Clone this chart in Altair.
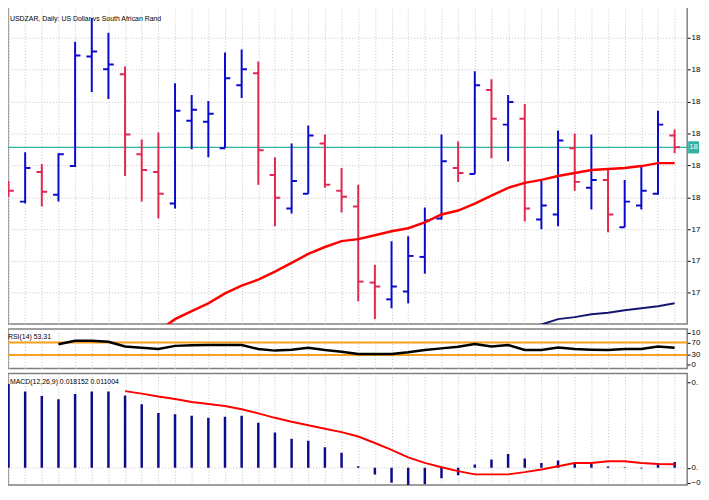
import altair as alt
import pandas as pd

# ---------------- data ----------------
bar_index = list(range(41))
opens = [18.0325, 17.9861, 18.0789, 18.0077, 18.0975, 18.4412, 18.4009, 18.3854, 18.1347, 18.0789,
         17.9799, 18.2399, 18.2368, 18.1533, 18.3514, 18.3885, 18.0697, 17.9644, 18.0108, 18.1687,
         18.0201, 17.9706, 17.7322, 17.6796, 17.7043, 17.8127, 17.9334, 18.0913, 18.0728, 18.3359,
         18.2276, 18.2461, 17.9303, 17.9458, 18.1533, 18.0294, 18.0542, 17.9056, 17.9737, 18.0108,
         18.1935]
highs = [18.0511, 18.1409, 18.1037, 18.1378, 18.4876, 18.5619, 18.5155, 18.4102, 18.1811, 18.2028,
         18.3576, 18.3204, 18.3019, 18.4536, 18.4628, 18.4257, 18.1254, 18.1687, 18.2245, 18.1966,
         18.0913, 18.0387, 17.7879, 17.8622, 17.8777, 17.9675, 18.1966, 18.1749, 18.3947, 18.3700,
         18.3204, 18.2926, 18.0511, 18.2090, 18.1997, 18.1966, 18.0851, 18.0542, 18.0944, 18.2709,
         18.2121]
lows = [18.0015, 17.9799, 17.9706, 17.9861, 18.0944, 18.3297, 18.3080, 18.0666, 17.9861, 17.9334,
        17.9644, 18.1502, 18.1254, 18.1533, 18.3111, 18.0387, 17.9087, 17.9489, 18.0108, 18.0294,
        17.9520, 17.6734, 17.6176, 17.6517, 17.6672, 17.7601, 17.9303, 18.0480, 18.0728, 18.1223,
        18.1130, 17.9241, 17.8994, 17.9087, 18.0201, 17.9613, 17.8901, 17.9056, 17.9613, 18.0077,
        18.1378]
closes = [18.0201, 18.0913, 18.0170, 18.1347, 18.4443, 18.4567, 18.4164, 18.1966, 18.0851, 18.0108,
          18.2709, 18.2740, 18.2616, 18.3731, 18.4009, 18.1471, 17.9985, 18.0511, 18.1935, 18.0387,
          18.0015, 17.7353, 17.7198, 17.7198, 17.8158, 17.9272, 18.1130, 18.0759, 18.3514, 18.2461,
          18.2988, 17.9644, 17.9737, 18.1780, 18.0480, 18.0542, 17.9458, 17.9861, 18.0201, 18.2276,
          18.1563]
ma_fast = [None] * 9 + [17.5805, 17.6176, 17.6424, 17.6672, 17.6981, 17.7229, 17.7415, 17.7663,
                        17.7941, 17.8220, 17.8437, 17.8622, 17.8684, 17.8808, 17.8932, 17.9025,
                        17.9211, 17.9458, 17.9582, 17.9799, 18.0046, 18.0294, 18.0449, 18.0542,
                        18.0666, 18.0759, 18.0851, 18.0882, 18.0913, 18.0975, 18.1068, 18.1068]
ma_slow = [None] * 31 + [17.585, 17.6006, 17.6176, 17.6238, 17.6331, 17.6378, 17.6455, 17.6517,
                         17.6579, 17.6672]
rsi = [None] * 3 + [64, 75, 75, 72, 57, 53, 49, 59, 61, 61.5, 61.5, 61.5, 49, 44, 47, 53, 46, 40.6,
                    33.4, 33.4, 33.4, 38.5, 46, 51, 56, 64.6, 57, 61.5, 46, 46, 54, 49, 47, 46, 49,
                    49, 57, 53.31]
macd_hist = [0.2576, 0.2345, 0.2203, 0.2103, 0.2264, 0.2345, 0.2345, 0.2224, 0.1952, 0.1688,
             0.1648, 0.1597, 0.1536, 0.1567, 0.1597, 0.1385, 0.1082, 0.0891, 0.0830, 0.0636,
             0.0467, 0.0052, -0.0200, -0.0455, -0.0533, -0.0503, -0.0321, -0.0230, 0.0103, 0.0255,
             0.0424, 0.0285, 0.0152, 0.0224, 0.0173, 0.0121, 0.0042, 0.0021, -0.0018, 0.0152,
             0.018152]
macd_signal = [None] * 7 + [0.2355, 0.2279, 0.2188, 0.2112, 0.2021, 0.1961, 0.1900, 0.1800, 0.1673,
                            0.1536, 0.1415, 0.1309, 0.1203, 0.1097, 0.0961, 0.0764, 0.0552, 0.0324,
                            0.0152, 0.0021, -0.0100, -0.0200, -0.0200, -0.0200, -0.0130, -0.0048,
                            0.0052, 0.0152, 0.0152, 0.0203, 0.0203, 0.0152, 0.0121, 0.011004]

price_ticks = [17.7, 17.8, 17.9, 18.0, 18.1, 18.2, 18.3, 18.4, 18.5]
rsi_ticks = [0, 30, 70, 100]
rsi_levels = [30, 70]
macd_ticks = [-0.045, 0.0, 0.2630]
current_price = [18.1563]

title_main = "USDZAR, Daily:  US Dollar vs South African Rand"
rsi_label = "RSI(14) 53.31"
macd_label = "MACD(12,26,9) 0.018152 0.011004"

# ---------------- styling ----------------
FONT = "Liberation Sans"
BLUE = "#0A0ACD"
RED = "#E02850"
MA_RED = "#FF0000"
NAVY = "#16166E"
HIST = "#0C0C8A"
TEAL = "#2FB3A0"
ORANGE = "#F5A01E"
GRID = "#C4C4C4"
W = 688
TXT = 7
MAIN_H, RSI_H, MACD_H = 322, 40, 113

df = pd.DataFrame({"i": bar_index, "open": opens, "high": highs, "low": lows, "close": closes,
                   "ma_fast": ma_fast, "ma_slow": ma_slow, "rsi": rsi,
                   "macd": macd_hist, "signal": macd_signal})

xs = alt.Scale(domain=[-0.03, -0.03 + W / 16.87], nice=False, zero=False)
x_axis = alt.Axis(values=bar_index, grid=True, gridDash=[1, 2], gridColor=GRID,
                  labels=False, ticks=False, domain=False, title=None)
color_dir = alt.Color("dir:N", scale=alt.Scale(domain=["up", "down"], range=[BLUE, RED]), legend=None)

ys_main = alt.Scale(domain=[17.6022, 18.5991], nice=False, zero=False)
main_axis = alt.Axis(orient="right", values=price_ticks, grid=True, gridDash=[1, 2], gridColor=GRID,
                     labelExpr="substring(format(datum.value, '.4f'), 0, 2)", tickSize=3,
                     labelPadding=1, domain=False, title=None)


def X(field):
    return alt.X(field, type="quantitative", scale=xs, axis=x_axis)


def YM(field):
    return alt.Y(field, type="quantitative", scale=ys_main, axis=main_axis)


base = alt.Chart(df).transform_calculate(
    dir="datum.close >= datum.open ? 'up' : 'down'",
    xo="datum.i - 0.32",
    xc="datum.i + 0.32",
)

wicks = base.mark_rule(strokeWidth=2, clip=True).encode(
    x=X("i"), y=YM("low"), y2="high:Q", color=color_dir)
open_ticks = base.mark_rule(strokeWidth=2, clip=True).encode(
    x=X("xo"), x2="i:Q", y=YM("open"), color=color_dir)
close_ticks = base.mark_rule(strokeWidth=2, clip=True).encode(
    x=X("i"), x2="xc:Q", y=YM("close"), color=color_dir)
fast_line = alt.Chart(df).mark_line(color=MA_RED, strokeWidth=2.5, clip=True).encode(
    x=X("i"), y=YM("ma_fast"))
slow_line = alt.Chart(df).mark_line(color=NAVY, strokeWidth=2, clip=True).encode(
    x=X("i"), y=YM("ma_slow"))

price_df = pd.DataFrame({"p": current_price, "lbl": [f"{current_price[0]:.4f}"[:2]]})
price_line = alt.Chart(price_df).mark_rule(color=TEAL, strokeWidth=1.2).encode(y=YM("p"))
price_box = alt.Chart(price_df).transform_calculate(
    top="datum.p + 0.019", bot="datum.p - 0.019"
).mark_rect(color=TEAL).encode(
    x=alt.value(W + 1), x2=alt.value(W + 12), y=YM("top"), y2="bot:Q")
price_text = alt.Chart(price_df).mark_text(
    align="left", baseline="middle", font=FONT, fontSize=8, color="white"
).encode(x=alt.value(W + 2), y=YM("p"), text="lbl:N")

title_df = pd.DataFrame({"t": [title_main]})
title_text = alt.Chart(title_df).mark_text(
    align="left", baseline="middle", font=FONT, fontSize=TXT, color="black"
).encode(x=alt.value(2), y=alt.value(13), text="t:N")

main = alt.layer(price_line, wicks, open_ticks, close_ticks, fast_line, slow_line,
                 price_box, price_text, title_text).properties(width=W, height=MAIN_H)

# ---------------- RSI panel ----------------
ys_rsi = alt.Scale(domain=[-12.5, 112.5], nice=False, zero=False)
rsi_axis = alt.Axis(orient="right", values=rsi_ticks, grid=False,
                    labelExpr="substring(format(datum.value, 'd'), 0, 2)", tickSize=3,
                    labelPadding=1, domain=False, title=None, labelOverlap=False)
lvl_df = pd.DataFrame({"lvl": rsi_levels})
rsi_levels_layer = alt.Chart(lvl_df).mark_rule(color=ORANGE, strokeWidth=2).encode(
    y=alt.Y("lvl:Q", scale=ys_rsi, axis=rsi_axis))
rsi_line = alt.Chart(df).mark_line(color="black", strokeWidth=2.5, clip=True).encode(
    x=X("i"), y=alt.Y("rsi:Q", scale=ys_rsi, axis=rsi_axis))
rsi_text = alt.Chart(pd.DataFrame({"t": [rsi_label]})).mark_text(
    align="left", baseline="middle", font=FONT, fontSize=TXT, color="black"
).encode(x=alt.value(0), y=alt.value(8), text="t:N")
rsi_panel = alt.layer(rsi_levels_layer, rsi_line, rsi_text).properties(width=W, height=RSI_H)

# ---------------- MACD panel ----------------
ys_macd = alt.Scale(domain=[-0.0524, 0.29], nice=False, zero=False)
macd_axis = alt.Axis(orient="right", values=macd_ticks, grid=False,
                     labelExpr="substring(format(datum.value, '.6f'), 0, 2)", tickSize=3,
                     labelPadding=1, domain=False, title=None, labelOverlap=False)
zero_df = pd.DataFrame({"z": [0.0]})
zero_line = alt.Chart(zero_df).mark_rule(color=GRID, strokeDash=[1, 2], strokeWidth=1).encode(
    y=alt.Y("z:Q", scale=ys_macd, axis=macd_axis))
hist = alt.Chart(df).transform_calculate(zero="0").mark_rule(color=HIST, strokeWidth=2.5, clip=True).encode(
    x=X("i"), y=alt.Y("macd:Q", scale=ys_macd, axis=macd_axis), y2="zero:Q")
signal_line = alt.Chart(df).mark_line(color=MA_RED, strokeWidth=2, clip=True).encode(
    x=X("i"), y=alt.Y("signal:Q", scale=ys_macd, axis=macd_axis))
macd_text = alt.Chart(pd.DataFrame({"t": [macd_label]})).mark_text(
    align="left", baseline="middle", font=FONT, fontSize=TXT, color="black"
).encode(x=alt.value(2), y=alt.value(9), text="t:N")
macd_panel = alt.layer(zero_line, hist, signal_line, macd_text).properties(width=W, height=MACD_H)

chart = alt.vconcat(main, rsi_panel, macd_panel, spacing=3).configure_view(
    stroke="#808080", strokeWidth=1.5
).configure_axis(
    labelFont=FONT, labelFontSize=8, labelColor="black", tickColor="black"
).properties(
    padding={"left": -2, "top": -6, "right": 0, "bottom": 0}, background="white"
)

chart.save("out.html", embed_options={"renderer": "svg", "actions": False})
